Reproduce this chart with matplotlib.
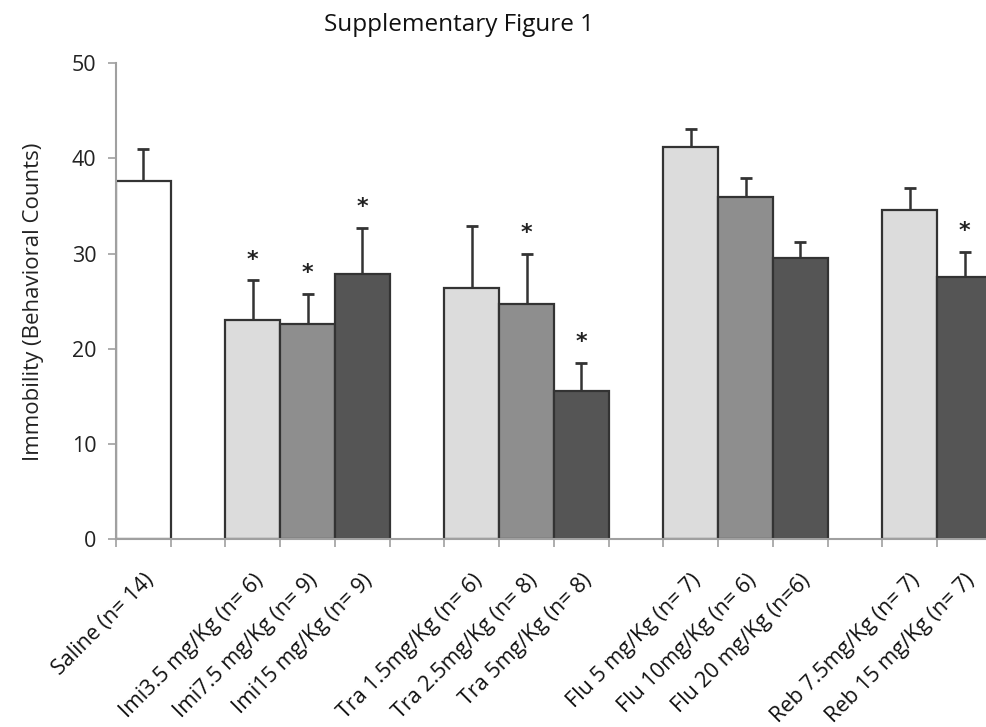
import matplotlib.pyplot as plt
import matplotlib.transforms as mtransforms
import numpy as np

plt.rcParams['font.family'] = ['Open Sans', 'DejaVu Sans']

# slot positions (empty slots separate the drug groups)
slots = [0, 2, 3, 4, 6, 7, 8, 10, 11, 12, 14, 15]
labels = ["Saline (n= 14)",
          "Imi3.5 mg/Kg (n= 6)", "Imi7.5 mg/Kg (n= 9)", "Imi15 mg/Kg (n= 9)",
          "Tra 1.5mg/Kg (n= 6)", "Tra 2.5mg/Kg (n= 8)", "Tra 5mg/Kg (n= 8)",
          "Flu 5 mg/Kg (n= 7)", "Flu 10mg/Kg (n= 6)", "Flu 20 mg/Kg (n=6)",
          "Reb 7.5mg/Kg (n= 7)", "Reb 15 mg/Kg (n= 7)"]
means = [37.6, 23.0, 22.6, 27.9, 26.4, 24.7, 15.6, 41.2, 36.0, 29.5, 34.6, 27.6]
errors = [3.4, 4.2, 3.2, 4.8, 6.5, 5.3, 2.9, 1.9, 2.0, 1.7, 2.3, 2.6]
signif = [False, True, True, True, False, True, True, False, False, False, False, True]
fills = ["#ffffff",
         "#dcdcdc", "#8e8e8e", "#555555",
         "#dcdcdc", "#8e8e8e", "#555555",
         "#dcdcdc", "#8e8e8e", "#555555",
         "#dcdcdc", "#555555"]

fig = plt.figure(figsize=(9.87, 7.27), dpi=100)
ax = fig.add_axes([0.1175, 0.258, 0.8875, 0.655])

x = np.array(slots) + 0.5
ax.bar(x, means, width=1.0, color=fills, edgecolor="#333333", linewidth=1.6, zorder=2)
ax.errorbar(x, means, yerr=[np.zeros(len(errors)), errors], fmt="none",
            ecolor="#333333", elinewidth=1.8, capsize=4, capthick=2.0, zorder=1)

for xi, m, e, s in zip(x, means, errors, signif):
    if s:
        ax.annotate("*", (xi, m + e), xytext=(0, 15), textcoords="offset points",
                    ha="center", va="center", fontsize=16, fontweight="bold",
                    color="#222222", family="DejaVu Sans")

ax.set_xlim(0, 16)
ax.set_ylim(0, 50)
ax.set_yticks([0, 10, 20, 30, 40, 50])
ax.set_xticks(x)
ax.set_xticklabels(labels, rotation=45, ha="right", va="top", rotation_mode="anchor",
                   fontsize=15.5, color="#111111")
shift = mtransforms.ScaledTranslation(2 / 72, 0, fig.dpi_scale_trans)
for lab in ax.get_xticklabels():
    lab.set_transform(lab.get_transform() + shift)
ax.set_xticks(np.arange(0, 17), minor=True)
ax.tick_params(axis="x", which="major", length=0, pad=22)
ax.tick_params(axis="x", which="minor", length=6, color="#a0a0a0", width=1.2)
ax.tick_params(axis="y", length=6, color="#a0a0a0", width=1.2, labelsize=15.5,
               labelcolor="#222222", pad=8)

for side in ["top", "right"]:
    ax.spines[side].set_visible(False)
for side in ["left", "bottom"]:
    ax.spines[side].set_color("#a0a0a0")
    ax.spines[side].set_linewidth(1.5)

ax.set_ylabel("Immobility (Behavioral Counts)", fontsize=16, color="#222222", labelpad=20)
fig.text(0.465, 0.965, "Supplementary Figure 1", ha="center", va="center",
         fontsize=17.5, color="#111111")

fig.savefig("out.png", dpi=100)
